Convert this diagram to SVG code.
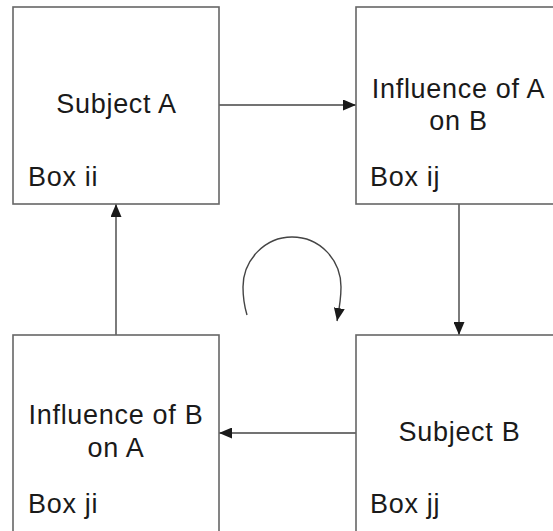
<svg xmlns="http://www.w3.org/2000/svg" width="553" height="531" viewBox="0 0 553 531">
<style>
.box{fill:#fff;stroke:#666;stroke-width:1.6}
.t{font-family:"Liberation Sans",Arial,Helvetica,sans-serif;font-size:27px;letter-spacing:0.7px;fill:#1a1a1a}
.c{text-anchor:middle}
.ln{fill:none;stroke:#444;stroke-width:1.4}
</style>
<defs>
<marker id="ah" markerWidth="13" markerHeight="11" refX="13" refY="5.5" orient="auto" markerUnits="userSpaceOnUse">
<path d="M0,0 L13,5.5 L0,11 Z" fill="#1a1a1a"/>
</marker>
</defs>
<g id="connectors">
<line class="ln" x1="219" y1="105" x2="356" y2="105" marker-end="url(#ah)"/>
<line class="ln" x1="459" y1="204" x2="459" y2="335" marker-end="url(#ah)"/>
<line class="ln" x1="356" y1="433" x2="219" y2="433" marker-end="url(#ah)"/>
<line class="ln" x1="116" y1="335" x2="116" y2="204" marker-end="url(#ah)"/>
<path class="ln" d="M247,315 C244,305 243,296 243,287 C243,260 265,237 292,237 C320,237 341,260 341,287 C341,300 339,310 337,321" marker-end="url(#ah)"/>
</g>
<g id="box-ii">
<rect class="box" x="13" y="7" width="206" height="197"/>
<text class="t c" x="116.5" y="113">Subject A</text>
<text class="t" x="28" y="186">Box ii</text>
</g>
<g id="box-ij">
<rect class="box" x="356" y="7" width="210" height="197"/>
<text class="t c" x="458.5" y="98">Influence of A</text>
<text class="t c" x="458.5" y="130">on B</text>
<text class="t" x="370" y="186">Box ij</text>
</g>
<g id="box-ji">
<rect class="box" x="13" y="335" width="206" height="210"/>
<text class="t c" x="116" y="424">Influence of B</text>
<text class="t c" x="116" y="457">on A</text>
<text class="t" x="28" y="513">Box ji</text>
</g>
<g id="box-jj">
<rect class="box" x="356" y="335" width="210" height="210"/>
<text class="t c" x="459.5" y="441">Subject B</text>
<text class="t" x="370" y="513">Box jj</text>
</g>
</svg>
